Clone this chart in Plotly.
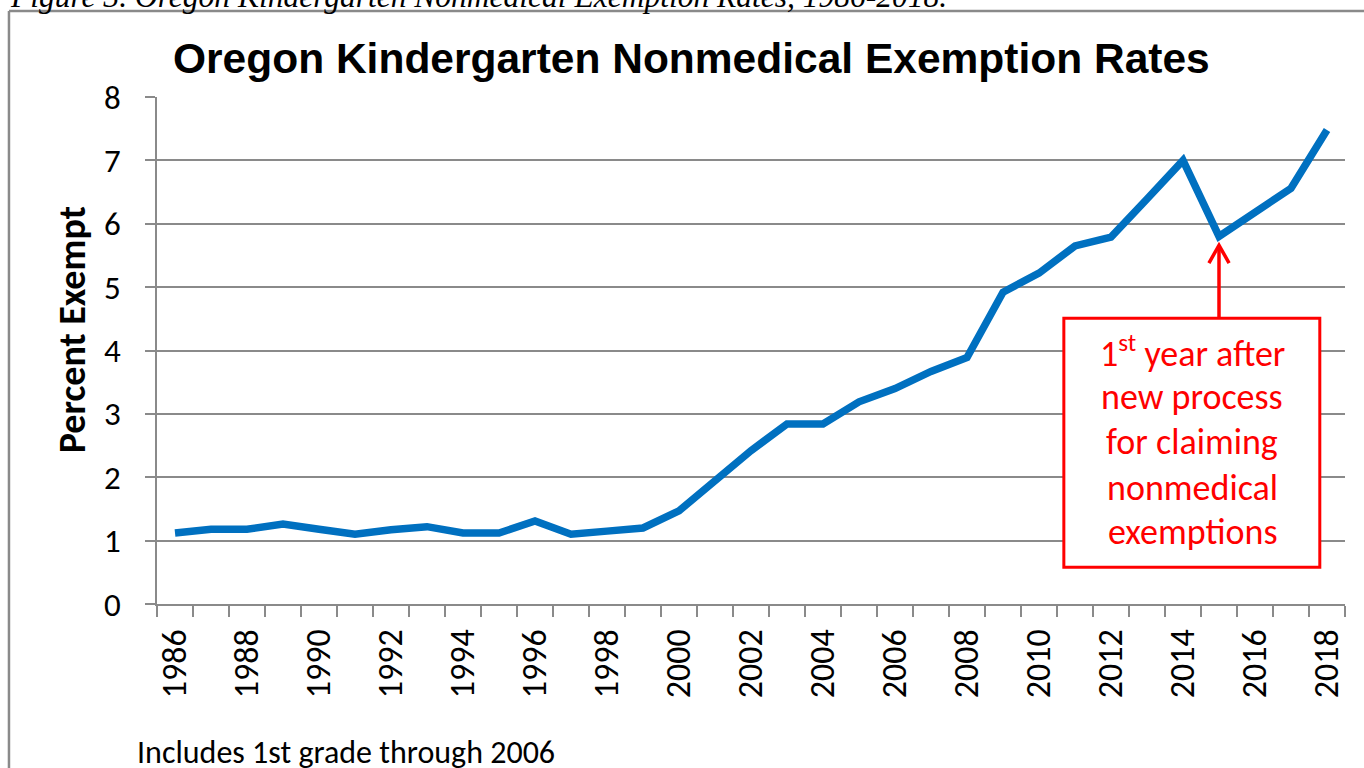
import plotly.graph_objects as go

years = list(range(1986, 2019))
rates = [1.12, 1.18, 1.18, 1.26, 1.18, 1.10, 1.17, 1.22, 1.12, 1.12, 1.31,
         1.10, 1.15, 1.20, 1.47, 1.95, 2.42, 2.84, 2.84, 3.19, 3.40, 3.67,
         3.89, 4.92, 5.22, 5.65, 5.79, 6.39, 7.00, 5.80, 6.18, 6.56, 7.48]
tick_years = [y for y in years if y % 2 == 0]
tick_labels = [str(y) for y in tick_years]
y_ticks = list(range(0, 9))

note_lines = ["1<sup>st</sup> year after", "new process", "for claiming",
              "nonmedical", "exemptions"]
note_line_y = [3.99, 3.27, 2.55, 1.83, 1.13]

GRAY = "#8a8a8a"
BLUE = "#0070C0"
RED = "#FF0000"
SANS = "Carlito, Lato, 'Open Sans', sans-serif"

fig = go.Figure()
fig.add_trace(go.Scatter(x=years, y=rates, mode="lines",
                         line=dict(color=BLUE, width=7.5), hoverinfo="skip"))

fig.update_layout(
    width=1364, height=768,
    margin=dict(l=157, r=19, t=97, b=164, autoexpand=False),
    paper_bgcolor="white", plot_bgcolor="white",
    showlegend=False,
    font=dict(family=SANS, color="black"),
)

fig.update_xaxes(
    range=[1985.5, 2018.5], automargin=False,
    tickmode="array", tickvals=tick_years, ticktext=tick_labels,
    tickangle=-90, ticks="", ticklabelstandoff=10,
    tickfont=dict(family=SANS, size=34, color="black"),
    showgrid=False, zeroline=False,
    showline=True, linecolor=GRAY, linewidth=1.5,
    minor=dict(tickmode="linear", tick0=1985.5, dtick=1, ticks="outside",
               ticklen=11, tickwidth=1.5, tickcolor=GRAY, showgrid=False),
)
fig.update_yaxes(
    range=[0, 8], automargin=False,
    tickmode="array", tickvals=y_ticks,
    ticks="outside", ticklen=10, tickwidth=1.5, tickcolor=GRAY,
    tickfont=dict(family=SANS, size=33, color="black"),
    ticklabelstandoff=18,
    showgrid=True, gridcolor=GRAY, gridwidth=1.5, zeroline=False,
    showline=True, linecolor=GRAY, linewidth=1.5,
)

# chart border (top and left visible)
fig.add_shape(type="line", xref="paper", yref="paper",
              x0=-0.1246, x1=1.02, y0=1.1696, y1=1.1696,
              line=dict(color=GRAY, width=2.5))
fig.add_shape(type="line", xref="paper", yref="paper",
              x0=-0.1246, x1=-0.1246, y0=1.1696, y1=-0.36,
              line=dict(color=GRAY, width=2.5))

# title
fig.add_annotation(text="<b>Oregon Kindergarten Nonmedical Exemption Rates</b>",
                   xref="paper", yref="paper", x=0.4495, y=1.0769,
                   xanchor="center", yanchor="middle", showarrow=False,
                   font=dict(family="Liberation Sans, Arial, sans-serif", size=42.5, color="black"))
# y-axis title
fig.add_annotation(text="<b>Percent Exempt</b>", textangle=-90,
                   xref="paper", yref="paper", x=-0.0715, y=0.540,
                   xanchor="center", yanchor="middle", showarrow=False,
                   font=dict(family=SANS, size=38, color="black"))
# footnote
fig.add_annotation(text="Includes 1st grade through 2006",
                   xref="paper", yref="paper", x=-0.0185, y=-0.292,
                   xanchor="left", yanchor="middle", showarrow=False,
                   font=dict(family=SANS, size=32, color="black"))
# clipped figure caption at top
fig.add_annotation(text="<i>Figure 3. Oregon Kindergarten Nonmedical Exemption Rates, 1986-2018.</i>",
                   xref="paper", yref="paper", x=-0.1254, y=1.199,
                   xanchor="left", yanchor="middle", showarrow=False,
                   font=dict(family="Liberation Serif, Times New Roman, serif", size=31.5, color="black"))

# callout box and arrow
fig.add_shape(type="rect", xref="x", yref="y",
              x0=2010.69, x1=2017.8, y0=0.58, y1=4.51,
              line=dict(color=RED, width=3), fillcolor="white", layer="above")
fig.add_shape(type="line", xref="x", yref="y",
              x0=2015, x1=2015, y0=4.51, y1=5.64,
              line=dict(color=RED, width=3.5))
fig.add_shape(type="path", xref="x", yref="y",
              path="M 2014.72,5.38 L 2015,5.66 L 2015.28,5.38",
              line=dict(color=RED, width=3.5))
for txt, yy in zip(note_lines, note_line_y):
    fig.add_annotation(text=txt, xref="x", yref="y", x=2014.25, y=yy,
                       xanchor="center", yanchor="middle", showarrow=False,
                       font=dict(family=SANS, size=36, color=RED))

fig.write_html("out.html", config={"displayModeBar": False},
               post_script="document.body.style.margin='0';document.body.style.overflow='hidden';")
